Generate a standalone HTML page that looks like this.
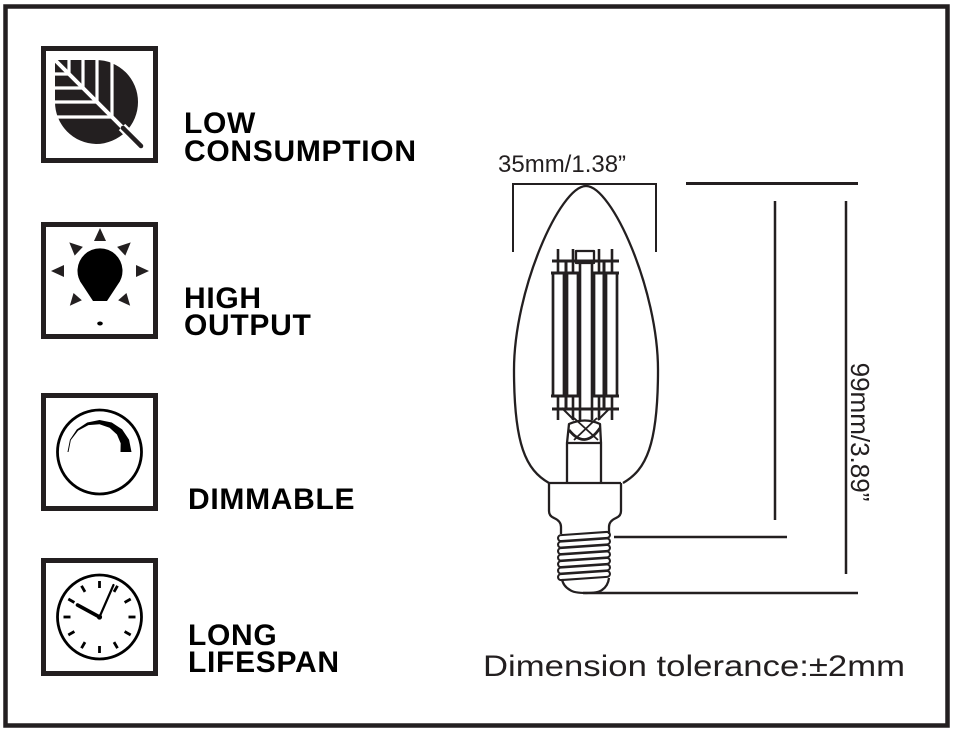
<!DOCTYPE html>
<html>
<head>
<meta charset="utf-8">
<style>
  html,body{margin:0;padding:0;background:#fff;}
  svg{display:block;}
  .lbl{font-family:"Liberation Sans",Arial,sans-serif;font-weight:bold;font-size:30px;letter-spacing:0.7px;fill:#000;}
  .dim{font-family:"Liberation Sans",Arial,sans-serif;fill:#231f20;}
</style>
</head>
<body>
<svg width="957" height="733" viewBox="0 0 957 733" xmlns="http://www.w3.org/2000/svg">
  <rect x="0" y="0" width="957" height="733" fill="#fff"/>
  <!-- outer frame -->
  <rect x="5.5" y="6.5" width="942" height="719" fill="none" stroke="#231f20" stroke-width="4.5"/>

  <!-- icon boxes -->
  <g fill="none" stroke="#231f20" stroke-width="5">
    <rect x="43.5" y="48.5" width="112" height="112"/>
    <rect x="43.5" y="224.5" width="112" height="112"/>
    <rect x="43.5" y="395.5" width="112" height="113"/>
    <rect x="43.5" y="560.5" width="112" height="113"/>
  </g>

  <!-- leaf icon -->
  <path d="M55,60 H96 A42,42 0 0 1 138,102 A42,42 0 0 1 96,144 A42,42 0 0 1 55,102 Z" fill="#231f20"/>
  <g stroke="#fff" stroke-width="3.2" fill="none">
    <line x1="51" y1="74" x2="69" y2="74"/>
    <line x1="51" y1="88" x2="83" y2="88"/>
    <line x1="51" y1="102" x2="97" y2="102"/>
    <line x1="51" y1="117" x2="112" y2="117"/>
    <line x1="69" y1="56" x2="69" y2="74"/>
    <line x1="83" y1="56" x2="83" y2="88"/>
    <line x1="97" y1="56" x2="97" y2="102"/>
    <line x1="112" y1="56" x2="112" y2="117"/>
    <line x1="52" y1="57" x2="128" y2="133" stroke-width="4"/>
  </g>
  <line x1="122" y1="127" x2="141" y2="146" stroke="#fff" stroke-width="9"/>
  <line x1="123" y1="128" x2="141" y2="146" stroke="#231f20" stroke-width="4.5" stroke-linecap="round"/>

  <!-- bulb icon -->
  <g fill="#000">
    <path d="M93,301 L82.5,285 A22.5,22.5 0 1 1 117.5,285 L107,301 Z"/>
    <ellipse cx="100" cy="323.5" rx="2.8" ry="2"/>
  </g>
  <g fill="#231f20">
    <polygon points="0,-43 -6,-30 6,-30" transform="translate(100,271) rotate(0)"/>
    <polygon points="0,-49 -6,-36 6,-36" transform="translate(100,271) rotate(90)"/>
    <polygon points="0,-49 -6,-36 6,-36" transform="translate(100,271) rotate(-90)"/>
    <polygon points="0,-42 -6,-29 6,-29" transform="translate(100,271) rotate(47)"/>
    <polygon points="0,-42 -6,-29 6,-29" transform="translate(100,271) rotate(-47)"/>
    <polygon points="0,-46 -5.5,-34 5.5,-34" transform="translate(100,271) rotate(139)"/>
    <polygon points="0,-46 -5.5,-34 5.5,-34" transform="translate(100,271) rotate(-139)"/>
  </g>

  <!-- dimmer icon -->
  <circle cx="99.5" cy="452" r="42" fill="none" stroke="#000" stroke-width="2.8"/>
  <polygon fill="#000" points="67.5,452 69.94,439.75 76.87,429.37 87.25,422.44 99.5,420 111.75,422.44 122.13,429.37 129.06,439.75 131.5,452 120.5,452 120.67,443.23 116.95,434.55 109.57,427.69 99.5,424.21 88.37,425.12 78.15,430.65 70.82,440.12 68.5,452"/>

  <!-- clock icon -->
  <circle cx="99.5" cy="617" r="42" fill="none" stroke="#000" stroke-width="2.8"/>
  <g stroke="#000" stroke-width="2.8">
    <line x1="99.5" y1="588" x2="99.5" y2="581" transform="rotate(0 99.5 617)"/>
    <line x1="99.5" y1="588" x2="99.5" y2="581" transform="rotate(30 99.5 617)"/>
    <line x1="99.5" y1="588" x2="99.5" y2="581" transform="rotate(60 99.5 617)"/>
    <line x1="99.5" y1="588" x2="99.5" y2="581" transform="rotate(90 99.5 617)"/>
    <line x1="99.5" y1="588" x2="99.5" y2="581" transform="rotate(120 99.5 617)"/>
    <line x1="99.5" y1="588" x2="99.5" y2="581" transform="rotate(150 99.5 617)"/>
    <line x1="99.5" y1="588" x2="99.5" y2="581" transform="rotate(180 99.5 617)"/>
    <line x1="99.5" y1="588" x2="99.5" y2="581" transform="rotate(210 99.5 617)"/>
    <line x1="99.5" y1="588" x2="99.5" y2="581" transform="rotate(240 99.5 617)"/>
    <line x1="99.5" y1="588" x2="99.5" y2="581" transform="rotate(270 99.5 617)"/>
    <line x1="99.5" y1="588" x2="99.5" y2="581" transform="rotate(300 99.5 617)"/>
    <line x1="99.5" y1="588" x2="99.5" y2="581" transform="rotate(330 99.5 617)"/>
  </g>
  <line x1="99.5" y1="617" x2="77.5" y2="605" stroke="#000" stroke-width="3.6" stroke-linecap="round"/>
  <line x1="99.5" y1="617" x2="113.5" y2="585" stroke="#000" stroke-width="2.2" stroke-linecap="round"/>
  <circle cx="99.5" cy="617" r="2.6" fill="#000"/>

  <!-- labels -->
  <text class="lbl" x="184" y="133">LOW</text>
  <text class="lbl" x="184" y="161">CONSUMPTION</text>
  <text class="lbl" x="184" y="308">HIGH</text>
  <text class="lbl" x="184" y="335">OUTPUT</text>
  <text class="lbl" x="188" y="509">DIMMABLE</text>
  <text class="lbl" x="188" y="645">LONG</text>
  <text class="lbl" x="188" y="672">LIFESPAN</text>

  <!-- dimension texts -->
  <text class="dim" x="498" y="172" font-size="24">35mm/1.38”</text>
  <text class="dim" font-size="26" text-anchor="middle" transform="translate(851,432) rotate(90)">99mm/3.89”</text>
  <text class="dim" x="483" y="676" font-size="30" textLength="422" lengthAdjust="spacingAndGlyphs">Dimension tolerance:±2mm</text>

  <!-- dimension lines -->
  <g stroke="#231f20" fill="none">
    <path d="M513,252 V184 H656 V252" stroke-width="2"/>
    <line x1="686" y1="183.5" x2="858" y2="183.5" stroke-width="3"/>
    <line x1="775" y1="201" x2="775" y2="520" stroke-width="2.5"/>
    <line x1="846" y1="201" x2="846" y2="574" stroke-width="2.5"/>
    <line x1="614" y1="537" x2="787" y2="537" stroke-width="2.5"/>
    <line x1="583" y1="593" x2="858" y2="593" stroke-width="2.5"/>
  </g>

  <!-- bulb drawing -->
  <g stroke="#231f20" fill="none" stroke-width="2.3" stroke-linejoin="round">
    <!-- glass -->
    <path d="M549,483 C526,470 514,445 514,370 C514,290 560,186 586,186 C612,186 658,290 658,370 C658,445 646,470 623,483"/>
    <!-- collar -->
    <path d="M549,483 H621"/>
    <path d="M549,483 V511 Q549,516 554,518 Q561,521 561,527 V534"/>
    <path d="M621,483 V511 Q621,516 616,518 Q609,521 609,527 V534"/>
    <!-- threads -->
    <g stroke-width="2.1">
      <rect x="558" y="533.5" width="52" height="6" rx="3" transform="rotate(-4 584 536.5)"/>
      <rect x="558" y="540" width="52" height="6" rx="3" transform="rotate(-4 584 543)"/>
      <rect x="558" y="546.5" width="52" height="6" rx="3" transform="rotate(-4 584 549.5)"/>
      <rect x="558" y="553" width="52" height="6" rx="3" transform="rotate(-4 584 556)"/>
      <rect x="558" y="559.5" width="52" height="6" rx="3" transform="rotate(-4 584 562.5)"/>
      <rect x="558" y="566" width="52" height="6" rx="3" transform="rotate(-4 584 569)"/>
      <rect x="558" y="572.5" width="52" height="6" rx="3" transform="rotate(-4 584 575.5)"/>
    </g>
    <!-- cap -->
    <path d="M562,579 Q563,586 570,590 Q574,593 586,593 Q598,593 602,590 Q608,586 609,578"/>
    <!-- stem -->
    <path d="M567,483 V443 H601 V483"/>
    <path d="M567,443 L569,424 Q585,417 600,424 L601,443"/>
    <path d="M569,430 Q585,450 600,428" stroke-width="2.8"/>
    <path d="M574,418 L598,440 M597,418 L574,440" stroke-width="1.8"/>
    <!-- leads -->
    <path d="M562,408 L574,420 M610,408 L598,420" stroke-width="2"/>
    <!-- center support -->
    <line x1="580" y1="262" x2="580" y2="420" stroke-width="2.6"/>
    <line x1="592" y1="262" x2="592" y2="420" stroke-width="2.6"/>
    <rect x="576" y="251" width="18" height="12"/>
    <!-- filaments -->
    <g stroke-width="2.7">
      <rect x="553" y="273" width="11" height="123"/>
      <rect x="567" y="273" width="11" height="123"/>
      <rect x="594" y="273" width="11" height="123"/>
      <rect x="606" y="273" width="11" height="123"/>
    </g>
    <line x1="566" y1="262" x2="566" y2="410" stroke-width="3"/>
    <line x1="604" y1="262" x2="604" y2="410" stroke-width="3"/>
    <!-- caps -->
    <g stroke-width="3">
      <line x1="551" y1="273" x2="580" y2="273"/>
      <line x1="592" y1="273" x2="619" y2="273"/>
      <line x1="551" y1="396" x2="580" y2="396"/>
      <line x1="592" y1="396" x2="619" y2="396"/>
    </g>
    <!-- pins -->
    <g stroke-width="2.6">
      <line x1="558" y1="249" x2="558" y2="273"/>
      <line x1="573" y1="249" x2="573" y2="273"/>
      <line x1="599" y1="249" x2="599" y2="273"/>
      <line x1="612" y1="249" x2="612" y2="273"/>
      <line x1="552" y1="261" x2="619" y2="261" stroke-width="3"/>
      <line x1="558" y1="396" x2="558" y2="420"/>
      <line x1="573" y1="396" x2="573" y2="420"/>
      <line x1="599" y1="396" x2="599" y2="420"/>
      <line x1="612" y1="396" x2="612" y2="420"/>
      <line x1="552" y1="409" x2="619" y2="409" stroke-width="3"/>
    </g>
  </g>
</svg>
</body>
</html>
